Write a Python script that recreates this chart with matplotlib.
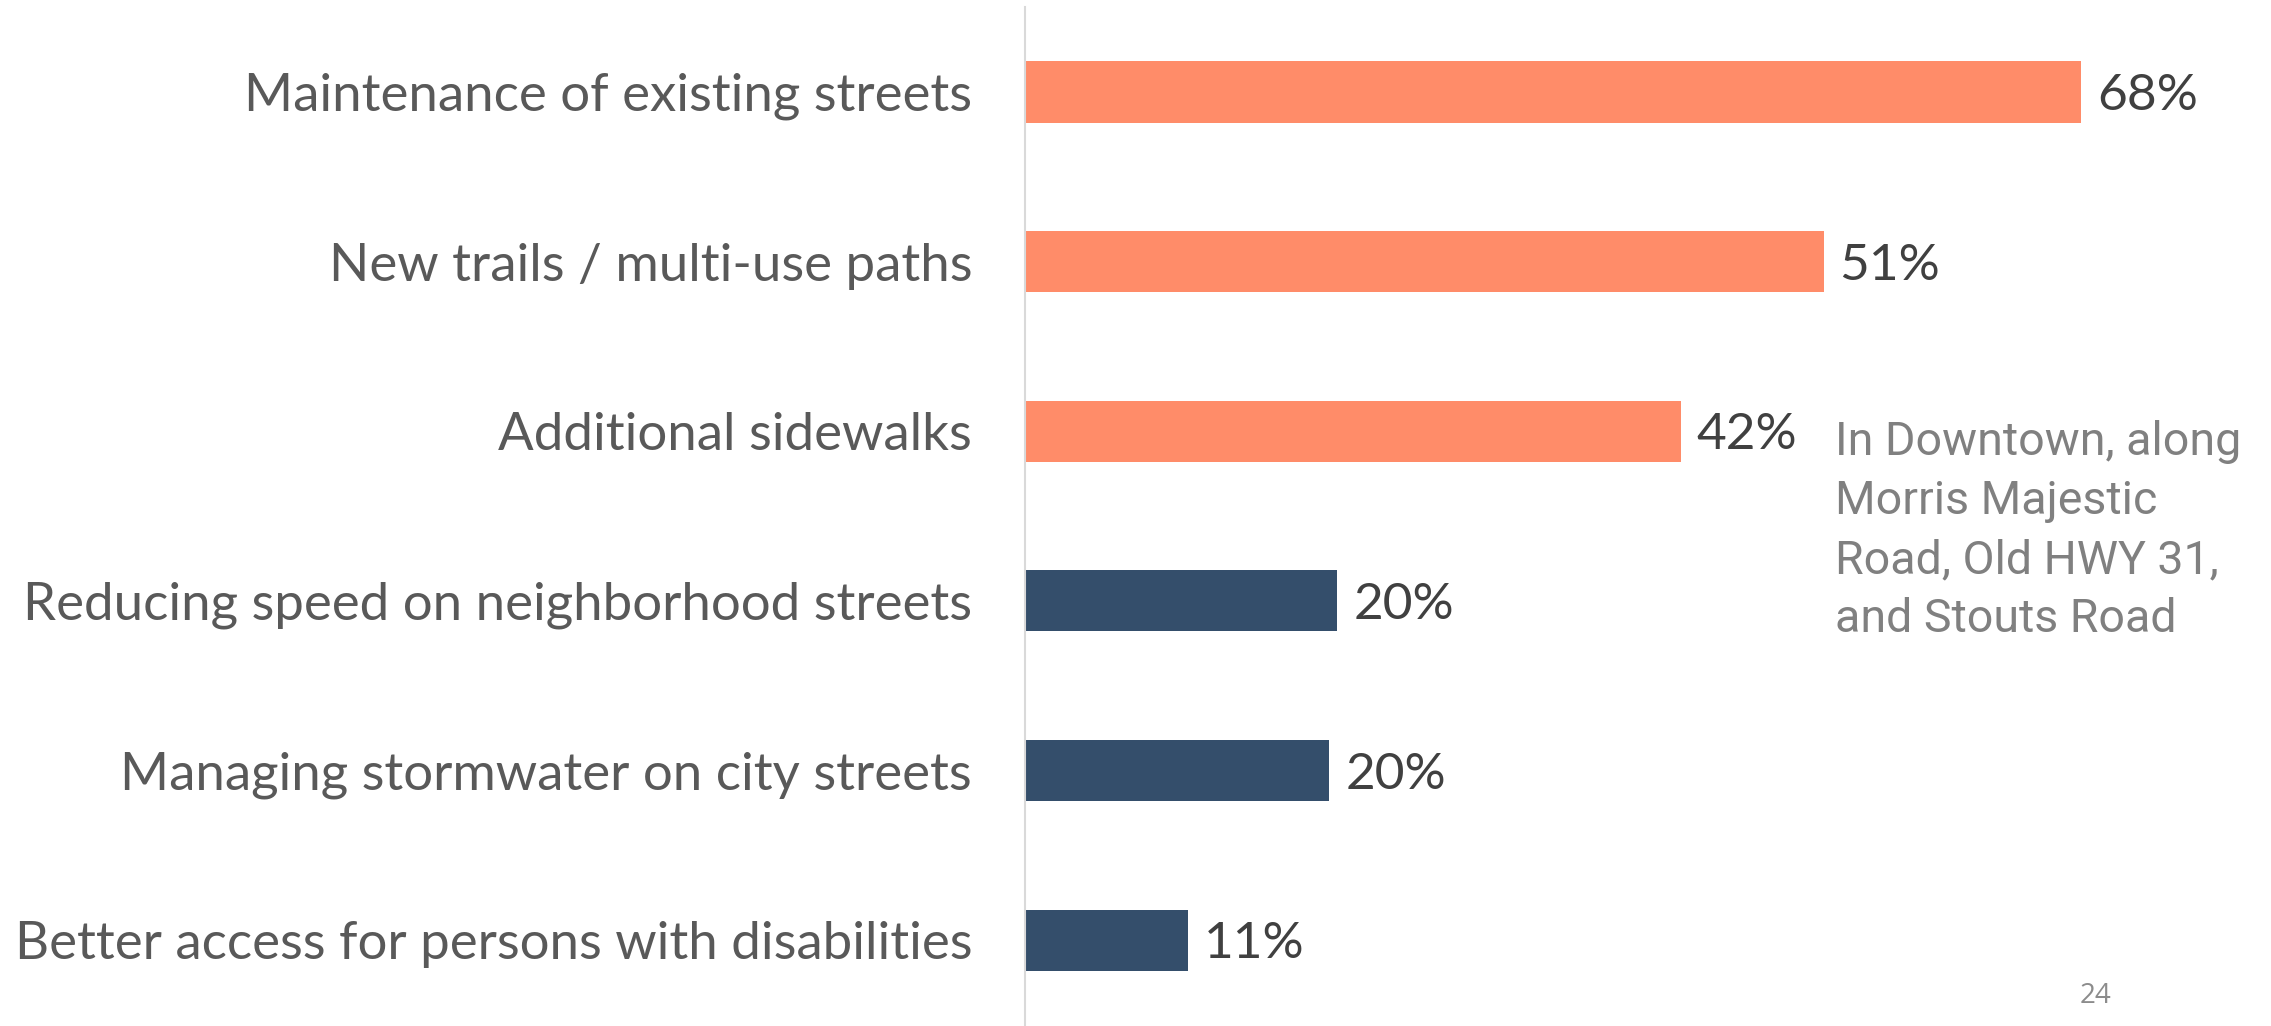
import matplotlib
matplotlib.use("Agg")
import matplotlib.pyplot as plt

categories = [
    "Maintenance of existing streets",
    "New trails / multi-use paths",
    "Additional sidewalks",
    "Reducing speed on neighborhood streets",
    "Managing stormwater on city streets",
    "Better access for persons with disabilities",
]
values = [68.0, 51.4, 42.2, 20.1, 19.6, 10.5]
value_labels = ["68%", "51%", "42%", "20%", "20%", "11%"]
is_top3 = [True, True, True, False, False, False]
annotation = "In Downtown, along\nMorris Majestic\nRoad, Old HWY 31,\nand Stouts Road"
page_number = "24"

ORANGE = "#FF8C69"
NAVY = "#344E6B"

fig = plt.figure(figsize=(22.71, 10.26), dpi=100)
ax = fig.add_axes([0.4513, 0.001, 0.5487, 0.992])

ypos = list(range(len(categories)))
colors = [ORANGE if t else NAVY for t in is_top3]
ax.barh(ypos, values, height=0.36, color=colors, zorder=2)
ax.set_xlim(0, 80.2)
ax.set_ylim(5.5, -0.5)

ax.set_yticks(ypos)
ax.set_yticklabels(categories, fontfamily="Lato", fontsize=38, color="#595959")
ax.tick_params(axis="y", length=0, pad=38)
ax.set_xticks([])

for s in ["top", "right", "bottom"]:
    ax.spines[s].set_visible(False)
ax.spines["left"].set_color("#D9D9D9")
ax.spines["left"].set_linewidth(1.5)

for y, v, lab in zip(ypos, values, value_labels):
    ax.annotate(lab, xy=(v, y), xytext=(16, -4), textcoords="offset pixels",
                ha="left", va="center", fontfamily="Lato", fontsize=37,
                color="#404040")

fig.text(1835 / 2271, 1 - 420 / 1026, annotation, ha="left", va="top",
         fontfamily="Roboto", fontsize=33.5, color="#808080", linespacing=1.43)
fig.text(2080 / 2271, 1 - 1003 / 1026, page_number, ha="left", va="baseline",
         fontfamily="Open Sans", fontsize=20, color="#8C8C8C")

fig.savefig("out.png", dpi=100)
